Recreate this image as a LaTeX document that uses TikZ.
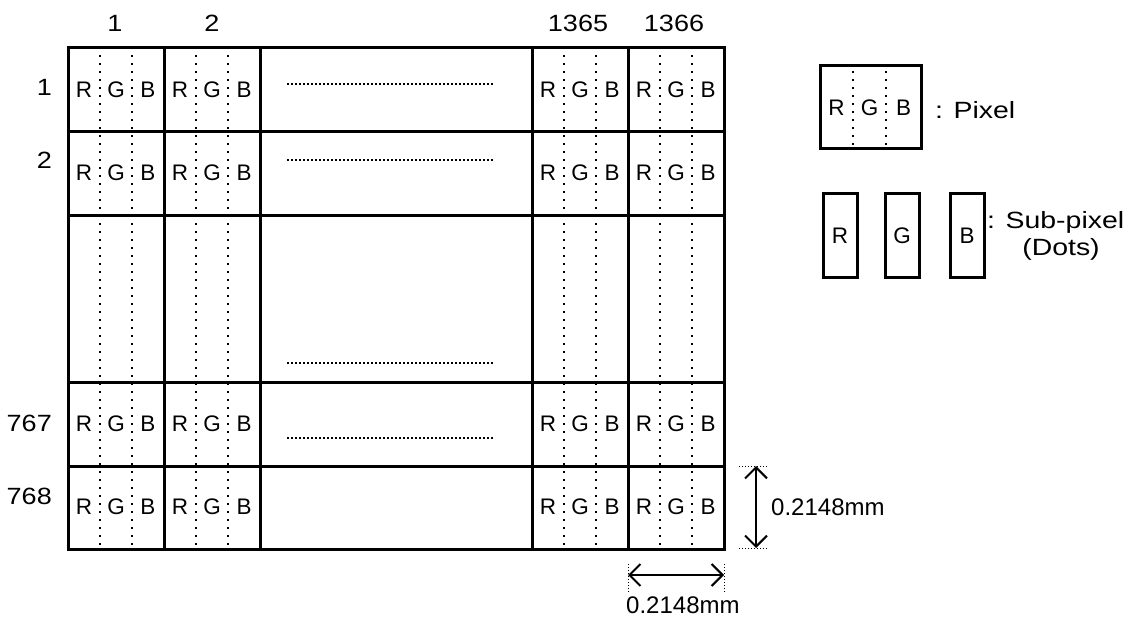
\documentclass[tikz,border=0pt]{standalone}
\usepackage{fontspec}
\setmainfont{Liberation Sans}
\newfontfamily\numfont{Liberation Sans}[FakeStretch=1.15]
\newfontfamily\legfont{Liberation Sans}[FakeStretch=1.21]
\usetikzlibrary{positioning, arrows.meta, calc}
\tikzset{
    gridline/.style  = {line width=3pt},
    subline/.style   = {line width=2pt, dash pattern=on 2pt off 6pt, dash phase=-3pt},
    rowdots/.style   = {line width=1.6pt, dash pattern=on 1.6pt off 2.4pt},
    tickdots/.style  = {line width=1pt, dash pattern=on 1pt off 2pt},
    numlbl/.style    = {inner sep=0pt, font=\numfont\fontsize{23.5}{28}\selectfont},
    leglbl/.style    = {inner sep=0pt, font=\legfont\fontsize{23.5}{28}\selectfont},
    dimlbl/.style    = {inner sep=0pt, font=\fontsize{24}{28}\selectfont},
    sublbl/.style    = {inner sep=0pt, font=\fontsize{22.5}{26}\selectfont},
    dimarrow/.style  = {{Straight Barb[length=11pt, width=22pt]}-{Straight Barb[length=11pt, width=22pt]},
                        line width=2pt},
}

\begin{document}
\begin{tikzpicture}[x=1pt, y=-1pt]
\useasboundingbox (0,0) rectangle (1131,617);

% panel grid
\draw[gridline] (68,48) rectangle (724,549);
\foreach \x in {164,260,532,628} \draw[gridline] (\x,48) -- (\x,549);
\foreach \y in {131.5,215.5,382,466} \draw[gridline] (68,\y) -- (724,\y);

% dots inside each pixel
\foreach \x in {68,164,532,628} {
    \draw[subline] (\x+32,52) -- (\x+32,549);
    \draw[subline] (\x+64,52) -- (\x+64,549);
    \foreach \y/\r in {89.5/a,173/b,424/c,507/d} {
        \node[sublbl] (R\x\r) at (\x+16,\y) {R};
        \node[sublbl] (G\x\r) at (\x+48,\y) {G};
        \node[sublbl] (B\x\r) at (\x+80,\y) {B};
    }
}
\foreach \y in {84,160,363,438} \draw[rowdots] (287,\y) -- (493,\y);

% column and row numbers
\foreach \x/\t in {115/1,212/2,578/1365,674/1366}
    \node[numlbl] (col\t) at (\x,23) {\t};
\foreach \y/\t in {87.5/1,160.5/2,423.5/767,496.5/768}
    \node[numlbl, anchor=east] (row\t) at (52,\y) {\t};

% legend
\draw[gridline] (820,66) rectangle (921,149);
\draw[subline] (853,68) -- (853,149);
\draw[subline] (886,68) -- (886,149);
\node[sublbl] (legR) at (836.5,108) {R};
\node[sublbl] (legG) at (869.5,108) {G};
\node[sublbl] (legB) at (903.5,108) {B};
\node[leglbl, anchor=west] (pixtxt) at (935,110) {: Pixel};

\foreach \x/\c in {823/R,885/G,950/B} {
    \draw[gridline] (\x,194) rectangle (\x+34,278);
    \node[sublbl] (sub\c) at (\x+17,236) {\c};
}
\node[leglbl, anchor=west] (subtxt) at (987,222) {: Sub-pixel};
\node[leglbl] (dotstxt) at (1061,249) {(Dots)};

% pitch dimensions
\coordinate (vtop) at (756,466);
\coordinate (vbot) at (756,548);
\draw[tickdots] ($(vtop)+(-17,0)$) -- ($(vtop)+(13,0)$);
\draw[tickdots] ($(vbot)+(-17,0)$) -- ($(vbot)+(13,0)$);
\draw[dimarrow] (vtop) -- (vbot);
\node[dimlbl, anchor=west] (vdim) at (771,507) {0.2148mm};

\coordinate (hleft) at (628,575);
\coordinate (hright) at (724,575);
\draw[tickdots] ($(hleft)+(0,-11)$) -- ($(hleft)+(0,18)$);
\draw[tickdots] ($(hright)+(0,-11)$) -- ($(hright)+(0,18)$);
\draw[dimarrow] (hleft) -- (hright);
\node[dimlbl, anchor=west] (hdim) at (626,605) {0.2148mm};

\end{tikzpicture}
\end{document}
